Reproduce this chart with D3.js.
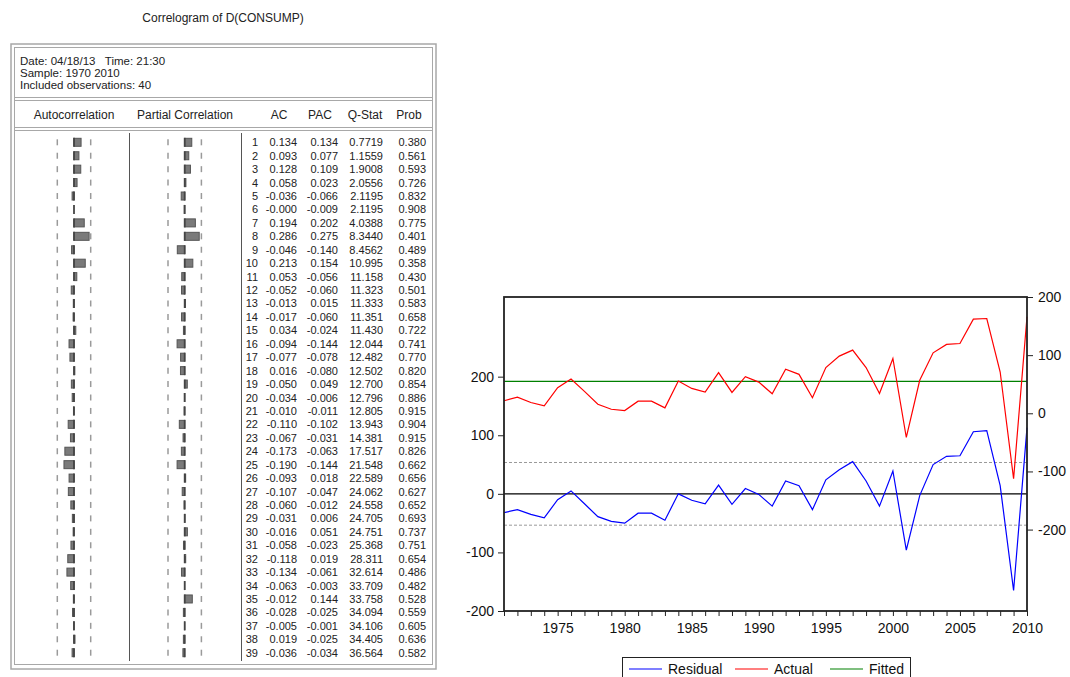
<!DOCTYPE html>
<html>
  <head>
    <meta charset="utf-8">
    <title>Correlogram and residuals</title>
    <script src="https://d3js.org/d3.v7.min.js"></script>
    <style>
      body { margin: 0; background: #fff; }
      svg { display: block; font-family: "Liberation Sans", Arial, sans-serif; }
      .num { font-size: 11px; fill: #222; }
      .lbl { font-size: 12px; fill: #222; white-space: pre; }
      .hdr { font-size: 11.5px; fill: #222; white-space: pre; }
      .axis text { font-size: 14px; fill: #111; font-family: "Liberation Sans", Arial, sans-serif; }
      .axis path, .axis line { stroke: #222; }
    </style>
  </head>
  <body>
    <svg id="chart" width="1070" height="677"></svg>
    <script>
      // correlogram table
      var lags = d3.range(1, 40);
      var ac = [0.134, 0.093, 0.128, 0.058, -0.036, -0.000, 0.194, 0.286, -0.046, 0.213,
        0.053, -0.052, -0.013, -0.017, 0.034, -0.094, -0.077, 0.016, -0.050, -0.034,
        -0.010, -0.110, -0.067, -0.173, -0.190, -0.093, -0.107, -0.060, -0.031, -0.016,
        -0.058, -0.118, -0.134, -0.063, -0.012, -0.028, -0.005, 0.019, -0.036];
      var pac = [0.134, 0.077, 0.109, 0.023, -0.066, -0.009, 0.202, 0.275, -0.140, 0.154,
        -0.056, -0.060, 0.015, -0.060, -0.024, -0.144, -0.078, -0.080, 0.049, -0.006,
        -0.011, -0.102, -0.031, -0.063, -0.144, 0.018, -0.047, -0.012, 0.006, 0.051,
        -0.023, 0.019, -0.061, -0.003, 0.144, -0.025, -0.001, -0.025, -0.034];
      var qstat = [0.7719, 1.1559, 1.9008, 2.0556, 2.1195, 2.1195, 4.0388, 8.3440, 8.4562, 10.995,
        11.158, 11.323, 11.333, 11.351, 11.430, 12.044, 12.482, 12.502, 12.700, 12.796,
        12.805, 13.943, 14.381, 17.517, 21.548, 22.589, 24.062, 24.558, 24.705, 24.751,
        25.368, 28.311, 32.614, 33.709, 33.758, 34.094, 34.106, 34.405, 36.564];
      var prob = [0.380, 0.561, 0.593, 0.726, 0.832, 0.908, 0.775, 0.401, 0.489, 0.358,
        0.430, 0.501, 0.583, 0.658, 0.722, 0.741, 0.770, 0.820, 0.854, 0.886,
        0.915, 0.904, 0.915, 0.826, 0.662, 0.656, 0.627, 0.652, 0.693, 0.737,
        0.751, 0.654, 0.486, 0.482, 0.528, 0.559, 0.605, 0.636, 0.582];
      var nObs = 40;
      var headerLines = ["Date: 04/18/13   Time: 21:30", "Sample: 1970 2010", "Included observations: 40"];

      // residual / actual / fitted
      var years = d3.range(1971, 2011);
      var residual = [-32, -27, -35, -41, -10, 5, -17, -39, -47, -50,
        -33, -33, -45, 0, -11, -17, 15, -18, 9, -1,
        -21, 22, 14, -27, 24, 41, 55, 22, -21, 39,
        -96, -3, 50, 64, 65, 106, 108, 14, -165, 113];
      var actual = [21.5, 27.7, 18.5, 12.8, 44, 59, 37.6, 15.6, 7, 4.7,
        20.8, 20.8, 9.3, 55.5, 42.8, 36.4, 70, 35.9, 63, 53.7,
        33.6, 75.7, 67, 26.7, 78.7, 98.3, 108.7, 78.7, 34, 94.3,
        -41.6, 56.7, 104, 118.5, 120, 162, 163, 71, -112.6, 166];
      var fitted = [55, 55, 55, 55, 55, 55, 55, 55, 55, 55,
        55, 55, 55, 55, 55, 55, 55, 55, 55, 55,
        55, 55, 55, 55, 55, 55, 55, 55, 55, 55,
        55, 55, 55, 55, 55, 55, 55, 55, 55, 55];
      var residSE = 53.5;
      var leftTicks = [200, 100, 0, -100, -200];
      var rightTicks = [200, 100, 0, -100, -200];
      var seriesNames = ["Residual", "Actual", "Fitted"];
      var seriesColors = ["#0000ff", "#ff0000", "#008000"];

      var svg = d3.select("#chart");

      // ---------- correlogram ----------
      var corr = svg.append("g");
      corr.append("text").attr("x", 223).attr("y", 22).attr("text-anchor", "middle")
        .attr("class", "lbl").text("Correlogram of D(CONSUMP)");
      // frame (double grey border)
      corr.append("rect").attr("x", 11).attr("y", 44).attr("width", 425).attr("height", 625)
        .attr("fill", "none").attr("stroke", "#a8a8a8").attr("stroke-width", 1.5);
      corr.append("rect").attr("x", 14.5).attr("y", 47.5).attr("width", 418).attr("height", 617)
        .attr("fill", "none").attr("stroke", "#a8a8a8").attr("stroke-width", 1);
      [97.5, 100.5, 127.5, 130.5].forEach(function(y) {
        corr.append("line").attr("x1", 14.5).attr("x2", 432.5).attr("y1", y).attr("y2", y)
          .attr("stroke", "#a8a8a8");
      });
      corr.selectAll(".hdrline").data(headerLines).enter().append("text")
        .attr("class", "hdr").attr("x", 20).attr("y", function(d, i) { return 64.5 + i * 12; })
        .text(function(d) { return d; });
      var colHeads = [["Autocorrelation", 74], ["Partial Correlation", 185], ["AC", 279],
        ["PAC", 320], ["Q-Stat", 365], ["Prob", 409]];
      corr.selectAll(".col").data(colHeads).enter().append("text")
        .attr("class", "lbl").attr("text-anchor", "middle")
        .attr("x", function(d) { return d[1]; }).attr("y", 119)
        .text(function(d) { return d[0]; });
      // panel dividers
      [129.5, 241.5].forEach(function(x) {
        corr.append("line").attr("x1", x).attr("x2", x).attr("y1", 133).attr("y2", 661)
          .attr("stroke", "#555");
      });

      var row = d3.scalePoint().domain(lags).range([142.3, 652.7]);
      var band = 2 / Math.sqrt(nObs);
      var panels = [{ vals: ac, x: d3.scaleLinear().domain([-1, 1]).range([74 - 52.8, 74 + 52.8]) },
                    { vals: pac, x: d3.scaleLinear().domain([-1, 1]).range([184.7 - 52.8, 184.7 + 52.8]) }];
      panels.forEach(function(p) {
        var g = corr.append("g");
        // confidence dashes
        [-band, band].forEach(function(b) {
          g.selectAll(null).data(lags).enter().append("line")
            .attr("x1", p.x(b)).attr("x2", p.x(b))
            .attr("y1", function(d) { return row(d) - 3; })
            .attr("y2", function(d) { return row(d) + 3; })
            .attr("stroke", "#9a9a9a").attr("stroke-width", 1.5);
        });
        g.selectAll(null).data(lags).enter().append("rect")
          .attr("x", function(d, i) { return Math.min(p.x(0), p.x(p.vals[i])); })
          .attr("y", function(d) { return row(d) - 4; })
          .attr("width", function(d, i) { return Math.abs(p.x(p.vals[i]) - p.x(0)); })
          .attr("height", 8)
          .attr("fill", "#7a7a7a").attr("stroke", "#555").attr("stroke-width", 1);
        // zero dashes
        g.selectAll(null).data(lags).enter().append("line")
          .attr("x1", p.x(0)).attr("x2", p.x(0))
          .attr("y1", function(d) { return row(d) - 4.5; })
          .attr("y2", function(d) { return row(d) + 4.5; })
          .attr("stroke", "#444").attr("stroke-width", 1.8);
      });

      function fmt3(v) { return (v < 0 || Object.is(v, -0) ? "-" : "") + Math.abs(v).toFixed(3); }
      function fmtQ(v) { return v < 10 ? v.toFixed(4) : v.toFixed(3); }
      var cols = [[258, function(i) { return lags[i]; }],
                  [297, function(i) { return fmt3(ac[i]); }],
                  [338, function(i) { return fmt3(pac[i]); }],
                  [383, function(i) { return fmtQ(qstat[i]); }],
                  [426, function(i) { return prob[i].toFixed(3); }]];
      cols.forEach(function(c) {
        corr.selectAll(null).data(lags).enter().append("text")
          .attr("class", "num").attr("text-anchor", "end")
          .attr("x", c[0]).attr("y", function(d) { return row(d) + 4; })
          .text(function(d, i) { return c[1](i); });
      });

      // ---------- residual plot ----------
      var plot = { left: 504, right: 1027, top: 297, bottom: 611 };
      var x = d3.scaleLinear().domain([1971, 2010]).range([plot.left, plot.right]);
      var yL = d3.scaleLinear().domain([-200, 336]).range([plot.bottom, plot.top]);
      var yR = d3.scaleLinear().domain([-340, 200]).range([plot.bottom, plot.top]);
      var res = svg.append("g");

      // reference lines
      [residSE, -residSE].forEach(function(v) {
        res.append("line").attr("x1", plot.left).attr("x2", plot.right)
          .attr("y1", yL(v)).attr("y2", yL(v))
          .attr("stroke", "#999").attr("stroke-dasharray", "3,2");
      });
      res.append("line").attr("x1", plot.left).attr("x2", plot.right)
        .attr("y1", yL(0)).attr("y2", yL(0)).attr("stroke", "#000").attr("stroke-width", 1.2);

      var lineL = d3.line().x(function(d, i) { return x(years[i]); }).y(function(d) { return yL(d); });
      var lineR = d3.line().x(function(d, i) { return x(years[i]); }).y(function(d) { return yR(d); });
      res.append("path").datum(fitted).attr("d", lineR).attr("fill", "none")
        .attr("stroke", seriesColors[2]).attr("stroke-width", 1.2);
      res.append("path").datum(actual).attr("d", lineR).attr("fill", "none")
        .attr("stroke", seriesColors[1]).attr("stroke-width", 1.2);
      res.append("path").datum(residual).attr("d", lineL).attr("fill", "none")
        .attr("stroke", seriesColors[0]).attr("stroke-width", 1.2);

      // axes
      res.append("g").attr("class", "axis").attr("transform", "translate(" + plot.left + ",0)")
        .call(d3.axisLeft(yL).tickValues(leftTicks).tickSize(6).tickPadding(4).tickFormat(d3.format("d")))
        .call(function(g) { g.select(".domain").remove(); });
      res.append("g").attr("class", "axis").attr("transform", "translate(" + plot.right + ",0)")
        .call(d3.axisRight(yR).tickValues(rightTicks).tickSize(6).tickPadding(5).tickFormat(d3.format("d")))
        .call(function(g) { g.select(".domain").remove(); });
      res.append("g").attr("class", "axis").attr("transform", "translate(0," + plot.bottom + ")")
        .call(d3.axisBottom(x).tickValues(years).tickSize(5).tickPadding(7)
          .tickFormat(function(d) { return d % 5 === 0 ? d : ""; }))
        .call(function(g) { g.select(".domain").remove(); });
      res.selectAll(".axis text")
        .text(function() { return this.textContent.replace("\u2212", "-"); });
      res.append("rect").attr("x", plot.left).attr("y", plot.top)
        .attr("width", plot.right - plot.left).attr("height", plot.bottom - plot.top)
        .attr("fill", "none").attr("stroke", "#222").attr("stroke-width", 1.8);

      // legend
      var leg = res.append("g");
      leg.append("rect").attr("x", 622.5).attr("y", 657.5).attr("width", 288).attr("height", 30)
        .attr("fill", "#fff").attr("stroke", "#222");
      var legX = [629, 735, 830];
      seriesNames.forEach(function(name, i) {
        leg.append("line").attr("x1", legX[i]).attr("x2", legX[i] + 33).attr("y1", 669).attr("y2", 669)
          .attr("stroke", seriesColors[i]).attr("stroke-width", 1.2);
        leg.append("text").attr("x", legX[i] + 39).attr("y", 674).attr("font-size", 14)
          .attr("fill", "#111").text(name);
      });
    </script>
  </body>
</html>
